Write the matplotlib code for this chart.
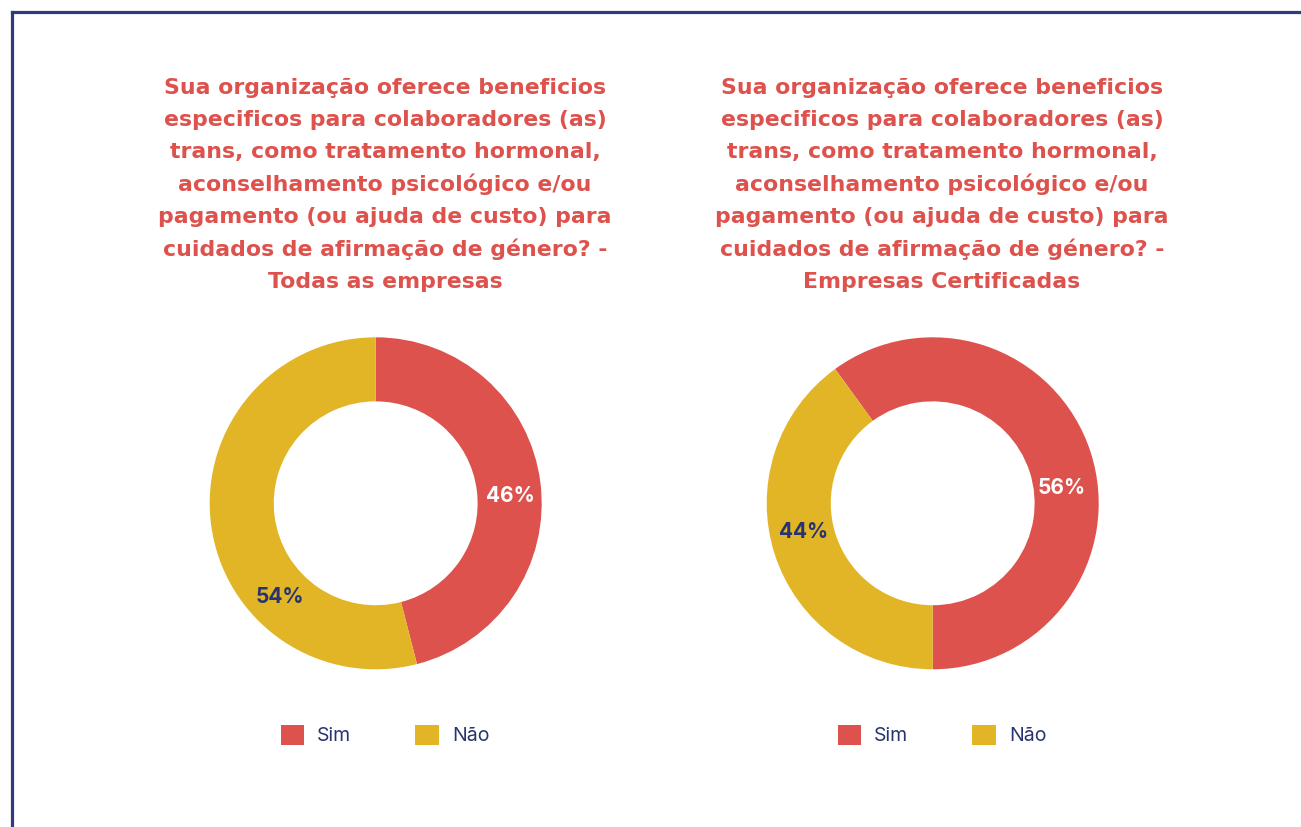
import matplotlib.pyplot as plt
from matplotlib.lines import Line2D
from matplotlib.patches import Patch

# data
categories = ["Sim", "Não"]
todas_values = [46, 54]
certificadas_values = [60, 40]          # arcs as drawn in the source
todas_labels = ["46%", "54%"]
certificadas_labels = ["56%", "44%"]
title_lines = [
    "Sua organização oferece beneficios",
    "especificos para colaboradores (as)",
    "trans, como tratamento hormonal,",
    "aconselhamento psicológico e/ou",
    "pagamento (ou ajuda de custo) para",
    "cuidados de afirmação de género? -",
]
subtitles = ["Todas as empresas", "Empresas Certificadas"]

RED = "#dd524d"
YELLOW = "#e1b526"
NAVY = "#28346f"
FRAME = "#2f3b7e"

W, H = 1301, 827
plt.rcParams['font.family'] = ['Inter', 'DejaVu Sans']
fig = plt.figure(figsize=(W / 100, H / 100), dpi=100)
fig.patch.set_facecolor("white")

# frame (top + left)
fig.add_artist(Line2D([11.5 / W, 11.5 / W], [0, 1 - 11.5 / H], color=FRAME, lw=2.3,
                      transform=fig.transFigure, solid_capstyle="projecting"))
fig.add_artist(Line2D([11.5 / W, 1], [1 - 11.5 / H, 1 - 11.5 / H], color=FRAME, lw=2.3,
                      transform=fig.transFigure, solid_capstyle="projecting"))

panels = [
    dict(values=todas_values, labels=todas_labels, sub=subtitles[0], cx=375.7, tx=385,
         start=90, label_pos=[(0.809, 0.044), (-0.577, -0.564)]),
    dict(values=certificadas_values, labels=certificadas_labels, sub=subtitles[1], cx=932.7, tx=942,
         start=126, label_pos=[(0.779, 0.092), (-0.775, -0.173)]),
]

cy, r = 503.3, 166
label_colors = ["white", NAVY]

for p in panels:
    ax = fig.add_axes([(p["cx"] - r) / W, (H - cy - r) / H, 2 * r / W, 2 * r / H])
    ax.pie(p["values"], colors=[RED, YELLOW], startangle=p["start"], counterclock=False,
           radius=1, wedgeprops=dict(width=0.386, linewidth=0))
    ax.set_xlim(-1, 1)
    ax.set_ylim(-1, 1)
    ax.set_aspect("equal")
    ax.axis("off")
    for (x, y), txt, col in zip(p["label_pos"], p["labels"], label_colors):
        ax.text(x, y, txt, ha="center", va="center", color=col, fontsize=15, fontweight="bold")

    # title, drawn line by line
    lines = title_lines + [p["sub"]]
    for i, line in enumerate(lines):
        fig.text(p["tx"] / W, 1 - (93.5 + 32.4 * i) / H, line, ha="center", va="baseline",
                 color=RED, fontsize=15.8, fontweight="bold", family="DejaVu Sans")

    handles = [Patch(facecolor=c, edgecolor="none") for c in [RED, YELLOW]]
    fig.legend(handles, categories, loc="center", bbox_to_anchor=(p["tx"] / W, 1 - 735 / H),
               ncol=2, frameon=False, fontsize=14, labelcolor=NAVY,
               handlelength=1.23, handleheight=1.23, handletextpad=0.65,
               columnspacing=3.3, borderpad=0)

fig.savefig("out.png", dpi=100, facecolor="white")
